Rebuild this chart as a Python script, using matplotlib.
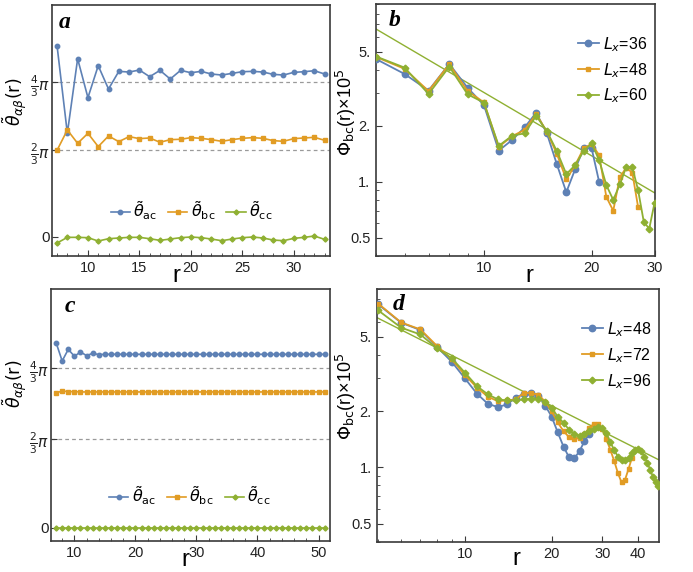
import numpy as np
import matplotlib
matplotlib.use('Agg')
import matplotlib.pyplot as plt
from matplotlib.ticker import FixedLocator, MultipleLocator, NullFormatter, NullLocator, LogLocator, FixedFormatter

plt.rcParams['font.family'] = ['Liberation Sans', 'DejaVu Sans']
plt.rcParams['mathtext.fontset'] = 'dejavusans'

BLUE = '#5E81B5'
ORANGE = '#E19C24'
GREEN = '#8FB032'
FRAME = '#3a3a3a'

# ---------------- panel a data ----------------
r_a = list(range(7, 34))
theta_ac_a = [5.287, 2.613, 4.890, 3.701, 4.677, 3.965, 4.504, 4.484, 4.545, 4.341, 4.535, 4.270, 4.535, 4.463,
              4.504, 4.423, 4.392, 4.443, 4.494, 4.504, 4.484, 4.413, 4.392, 4.474, 4.494, 4.524, 4.423]
theta_bc_a = [2.094, 2.714, 2.307, 2.612, 2.206, 2.531, 2.358, 2.511, 2.450, 2.470, 2.338, 2.419, 2.430, 2.480,
              2.460, 2.419, 2.368, 2.419, 2.460, 2.480, 2.460, 2.389, 2.368, 2.450, 2.470, 2.490, 2.399]
theta_cc_a = [-0.154, -0.016, -0.016, -0.024, -0.105, -0.049, -0.032, -0.016, -0.016, -0.049, -0.089, -0.057,
              -0.024, -0.008, -0.024, -0.057, -0.097, -0.057, -0.024, -0.008, -0.032, -0.081, -0.097, -0.040,
              -0.016, 0.016, -0.065]

# ---------------- panel c data ----------------
r_c = list(range(7, 52))
theta_ac_c = [4.940, 4.396, 4.742, 4.535, 4.663, 4.555, 4.624, 4.584, 4.594, 4.594, 4.594, 4.594, 4.594, 4.594,
              4.594, 4.594, 4.594, 4.594, 4.594, 4.594, 4.594, 4.594, 4.594, 4.594, 4.594, 4.594, 4.594, 4.594,
              4.594, 4.594, 4.594, 4.594, 4.594, 4.594, 4.594, 4.594, 4.594, 4.594, 4.594, 4.594, 4.594, 4.594,
              4.594, 4.594, 4.594]
theta_bc_c = [3.448, 3.507, 3.487, 3.487, 3.478, 3.478, 3.478, 3.478, 3.478, 3.478, 3.478, 3.478, 3.478, 3.478,
              3.478, 3.478, 3.478, 3.478, 3.478, 3.478, 3.478, 3.478, 3.478, 3.478, 3.478, 3.478, 3.478, 3.478,
              3.478, 3.478, 3.478, 3.478, 3.478, 3.478, 3.478, 3.478, 3.478, 3.478, 3.478, 3.478, 3.478, 3.478,
              3.478, 3.478, 3.478]
theta_cc_c = [0.0, 0.0, 0.0, 0.0, 0.0, 0.0, 0.0, 0.0, 0.0, 0.0, 0.0, 0.0, 0.0, 0.0, 0.0, 0.0, 0.0, 0.0, 0.0,
              0.0, 0.0, 0.0, 0.0, 0.0, 0.0, 0.0, 0.0, 0.0, 0.0, 0.0, 0.0, 0.0, 0.0, 0.0, 0.0, 0.0, 0.0, 0.0,
              0.0, 0.0, 0.0, 0.0, 0.0, 0.0, 0.0]

# ---------------- panel b data ----------------
r_b36 = list(range(5, 22))
phi_b36 = [4.55, 3.79, 3.09, 4.29, 3.20, 2.58, 1.47, 1.68, 1.96, 2.35, 1.82, 1.24, 0.88, 1.17, 1.51, 1.52, 1.00]
r_b48 = list(range(5, 28))
phi_b48 = [4.67, 4.04, 3.07, 4.28, 3.07, 2.67, 1.54, 1.76, 1.90, 2.31, 1.86, 1.41, 1.03, 1.23, 1.51, 1.60,
           1.39, 0.83, 0.70, 1.06, 1.19, 1.12, 0.73]
r_b60 = list(range(5, 31))
phi_b60 = [4.70, 4.10, 2.96, 4.15, 2.95, 2.66, 1.56, 1.77, 1.82, 2.26, 1.87, 1.46, 1.10, 1.23, 1.46, 1.61,
           1.31, 0.96, 0.80, 0.97, 1.20, 1.20, 0.90, 0.61, 0.56, 0.77]
fit_b_amp, fit_b_exp = 40.5, -1.128

# ---------------- panel d data ----------------
r_d48 = list(range(5, 28))
phi_d48 = [7.44, 5.94, 5.43, 4.40, 3.67, 2.99, 2.48, 2.19, 2.10, 2.17, 2.36, 2.47, 2.50, 2.42, 2.14, 1.87,
           1.54, 1.29, 1.13, 1.12, 1.22, 1.38, 1.50]
r_d72 = list(range(5, 39))
phi_d72 = [7.51, 5.96, 5.47, 4.46, 3.78, 3.12, 2.67, 2.39, 2.26, 2.28, 2.31, 2.50, 2.50, 2.44, 2.25, 1.99,
           1.74, 1.56, 1.45, 1.41, 1.44, 1.51, 1.62, 1.71, 1.71, 1.60, 1.41, 1.24, 1.08, 0.93, 0.83, 0.86,
           0.98, 1.12]
r_d96 = list(range(5, 48))
phi_d96 = [6.91, 5.59, 5.14, 4.33, 3.83, 3.21, 2.72, 2.46, 2.31, 2.28, 2.28, 2.31, 2.33, 2.33, 2.25, 2.08,
           1.87, 1.73, 1.59, 1.50, 1.48, 1.51, 1.56, 1.60, 1.64, 1.62, 1.53, 1.36, 1.24, 1.14, 1.09, 1.09,
           1.12, 1.19, 1.24, 1.26, 1.22, 1.14, 1.06, 0.97, 0.89, 0.83, 0.79]
fit_d_amp, fit_d_exp = 21.9, -0.777

theta_ticks = [0, 2 * np.pi / 3, 4 * np.pi / 3]
theta_ticklabels = ['0', r'$\frac{2}{3}\pi$', r'$\frac{4}{3}\pi$']
leg_theta = [r'$\tilde{\theta}_{\mathrm{ac}}$', r'$\tilde{\theta}_{\mathrm{bc}}$', r'$\tilde{\theta}_{\mathrm{cc}}$']

# piecewise-linear y scale (the original axis is drawn denser above 2pi/3)
T = 2 * np.pi / 3
K = 1.26


def fwd(y):
    y = np.asarray(y, dtype=float)
    return np.where(y <= T, K * y, K * T + (y - T))


def inv(f):
    f = np.asarray(f, dtype=float)
    return np.where(f <= K * T, f / K, T + (f - K * T))


W, H = 693, 572
fig = plt.figure(figsize=(W / 100, H / 100), dpi=100)


def px_axes(l, t, r, b):
    return fig.add_axes([l / W, 1 - b / H, (r - l) / W, (b - t) / H])


def style(ax):
    for s in ax.spines.values():
        s.set_color(FRAME)
        s.set_linewidth(1.2)
    ax.tick_params(which='both', direction='in', colors=FRAME, labelcolor='#222222', top=False, right=False)
    ax.tick_params(which='major', length=4, width=0.8, labelsize=10.5)
    ax.tick_params(which='minor', length=2, width=0.6)


def theta_panel(ax, r, ac, bc, cc, xlim, ylim, xticks, minor, leg_xy):
    style(ax)
    ax.set_yscale('function', functions=(fwd, inv))
    for v in theta_ticks[1:]:
        ax.axhline(v, color='#9a9a9a', ls=(0, (3, 2.5)), lw=0.9, zorder=1)
    ax.plot(r, ac, '-o', color=BLUE, ms=3.2, lw=1.2, label=leg_theta[0], zorder=3)
    ax.plot(r, bc, '-s', color=ORANGE, ms=2.4, lw=1.2, label=leg_theta[1], zorder=3)
    ax.plot(r, cc, '-D', color=GREEN, ms=2.6, lw=1.2, label=leg_theta[2], zorder=3)
    ax.set_xlim(*xlim)
    ax.set_ylim(*ylim)
    ax.set_xticks(xticks)
    ax.xaxis.set_minor_locator(MultipleLocator(minor))
    ax.yaxis.set_major_locator(FixedLocator(theta_ticks))
    ax.yaxis.set_major_formatter(FixedFormatter(theta_ticklabels))
    ax.yaxis.set_minor_locator(NullLocator())
    ax.tick_params(axis='y', labelsize=11, pad=1)
    ax.legend(loc='center', bbox_to_anchor=leg_xy, ncol=3, frameon=False, fontsize=11.5,
              handlelength=1.2, handletextpad=0.2, columnspacing=0.7, borderpad=0, borderaxespad=0)


def phi_panel(ax, series, fit, xlim, xticks, leg_xy):
    style(ax)
    ax.set_xscale('log')
    ax.set_yscale('log')
    styles = [('o', BLUE, 4.6), ('s', ORANGE, 3.4), ('D', GREEN, 3.4)]
    for (rr, vv, lab), (m, c, ms) in zip(series, styles):
        ax.plot(rr, vv, '-', marker=m, color=c, ms=ms, lw=1.3, label=lab, zorder=3)
    xs = np.geomspace(xlim[0], xlim[1], 50)
    ax.plot(xs, fit[0] * xs ** fit[1], '-', color=GREEN, lw=1.0, zorder=2)
    ax.set_xlim(*xlim)
    ax.set_ylim(0.4, 9.0)
    ax.xaxis.set_major_locator(FixedLocator(xticks))
    ax.xaxis.set_major_formatter(FixedFormatter([str(t) for t in xticks]))
    ax.xaxis.set_minor_locator(LogLocator(base=10, subs=np.arange(1, 10)))
    ax.xaxis.set_minor_formatter(NullFormatter())
    ax.yaxis.set_major_locator(FixedLocator([0.5, 1, 2, 5]))
    ax.yaxis.set_major_formatter(FixedFormatter(['0.5', '1.', '2.', '5.']))
    ax.yaxis.set_minor_locator(LogLocator(base=10, subs=np.arange(1, 10)))
    ax.yaxis.set_minor_formatter(NullFormatter())
    ax.tick_params(axis='y', pad=4)
    ax.legend(loc='upper left', bbox_to_anchor=leg_xy, frameon=False, fontsize=11.5,
              handlelength=1.3, handletextpad=0.25, labelspacing=0.45, borderpad=0, borderaxespad=0)


ax_a = px_axes(51.7, 5, 330, 256)
theta_panel(ax_a, r_a, theta_ac_a, theta_bc_a, theta_cc_a, (6.48, 33.52), (-0.468, 6.531),
            [10, 15, 20, 25, 30], 1, (0.502, 0.179))

ax_c = px_axes(50.7, 289, 330, 541)
theta_panel(ax_c, r_c, theta_ac_c, theta_bc_c, theta_cc_c, (6.12, 51.88), (-0.313, 6.529),
            [10, 20, 30, 40, 50], 2, (0.499, 0.18))

ax_b = px_axes(376, 4, 654.5, 256)
phi_panel(ax_b, [(r_b36, phi_b36, r'$L_x$=36'), (r_b48, phi_b48, r'$L_x$=48'), (r_b60, phi_b60, r'$L_x$=60')],
          (fit_b_amp, fit_b_exp), (4.99, 30.0), [10, 20, 30], (0.725, 0.877))

ax_d = px_axes(377.3, 289, 658.7, 541.7)
phi_panel(ax_d, [(r_d48, phi_d48, r'$L_x$=48'), (r_d72, phi_d72, r'$L_x$=72'), (r_d96, phi_d96, r'$L_x$=96')],
          (fit_d_amp, fit_d_exp), (4.96, 47.1), [10, 20, 30, 40], (0.727, 0.877))


def ftext(x, y, s, **kw):
    fig.text(x / W, 1 - y / H, s, **kw)


# panel letters
for (x, y, s) in [(65, 22, 'a'), (395, 20, 'b'), (70, 306, 'c'), (399, 304, 'd')]:
    ftext(x, y, s, ha='center', va='center', fontsize=17, family='Liberation Serif',
          weight='bold', style='italic')

# axis labels
for (x, y) in [(176, 282), (529, 282), (185, 566), (516.7, 565)]:
    ftext(x, y, 'r', ha='center', va='baseline', fontsize=17)

for (x, y) in [(15, 102), (15, 384)]:
    ftext(x, y, r'$\tilde{\theta}_{\alpha\beta}(\mathrm{r})$', ha='center', va='center', rotation=90, fontsize=12.5)
for (x, y) in [(346, 112), (346, 396)]:
    ftext(x, y, r'$\Phi_{\mathrm{bc}}$(r)×10$^5$', ha='center', va='center', rotation=90, fontsize=13)

fig.savefig('out.png', dpi=100)
